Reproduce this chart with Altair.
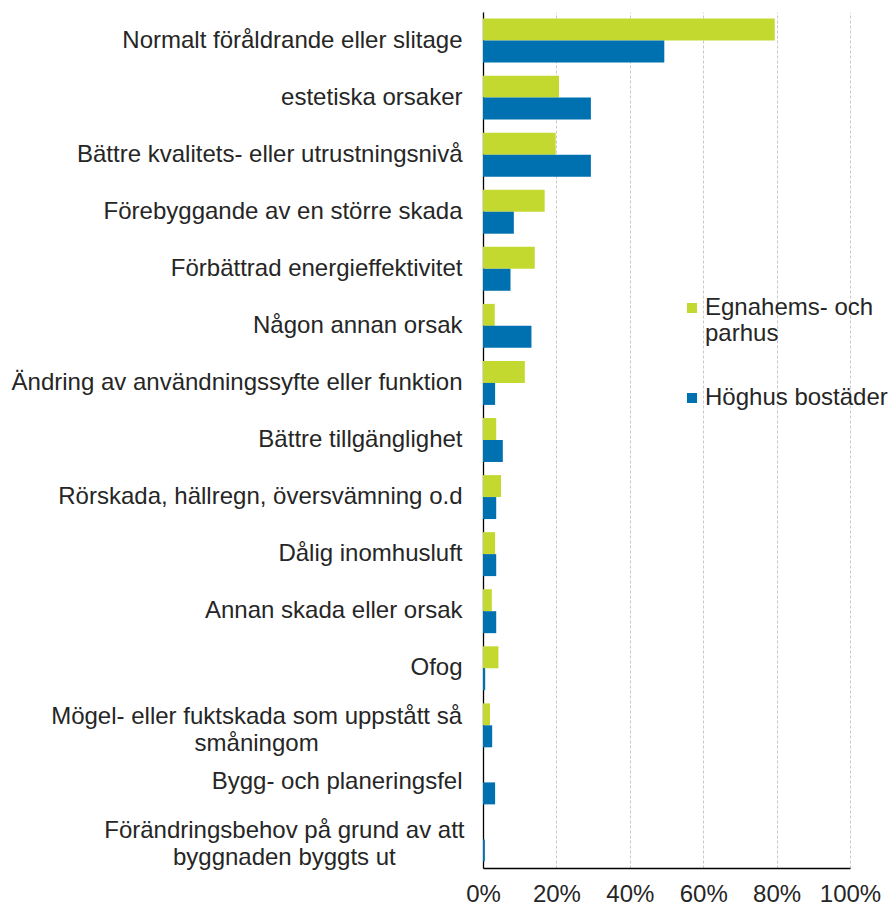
import altair as alt
import pandas as pd

categories = [
    "Normalt föråldrande eller slitage",
    "estetiska orsaker",
    "Bättre kvalitets- eller utrustningsnivå",
    "Förebyggande av en större skada",
    "Förbättrad energieffektivitet",
    "Någon annan orsak",
    "Ändring av användningssyfte eller funktion",
    "Bättre tillgänglighet",
    "Rörskada, hällregn, översvämning o.d",
    "Dålig inomhusluft",
    "Annan skada eller orsak",
    "Ofog",
    "Mögel- eller fuktskada som uppstått så\nsmåningom",
    "Bygg- och planeringsfel",
    "Förändringsbehov på grund av att\nbyggnaden byggts ut",
]
series_names = ["Egnahems- och parhus", "Höghus bostäder"]
egnahem = [79.5, 20.7, 19.8, 16.8, 14.1, 3.2, 11.4, 3.6, 4.9, 3.3, 2.4, 4.2, 1.9, 0.0, 0.0]
hoghus = [49.4, 29.4, 29.4, 8.4, 7.5, 13.2, 3.3, 5.4, 3.6, 3.6, 3.6, 0.6, 2.5, 3.3, 0.5]
x_ticks = [0, 20, 40, 60, 80, 100]
colors = ["#c4d930", "#0071b0"]

rows = []
for c, a, b in zip(categories, egnahem, hoghus):
    rows.append({"kategori": c, "serie": series_names[0], "varde": a})
    rows.append({"kategori": c, "serie": series_names[1], "varde": b})
df = pd.DataFrame(rows)

FONT = "Liberation Sans"
FS = 24
PLOT_W = 367
LABEL_GAP = 21


def width_expr(s):
    """Approximate rendered width (px) of text expression s in the label font."""
    def count(cls):
        return f"(length({s}) - length(replace({s}, regexp('[{cls}]', 'g'), '')))"
    return (
        f"({FS} / 1000) * (556 * length({s})"
        f" - 282 * {count('ijlftr .,-')}"
        f" - 56 * {count('skvcyxz')}"
        f" + 277 * {count('mwMW')})"
    )


y_enc = alt.Y(
    "kategori:N",
    sort=categories,
    title=None,
    scale=alt.Scale(paddingInner=0.23, paddingOuter=0.115),
    axis=alt.Axis(
        labelExpr="indexof(datum.label, '\\n') >= 0 ? '' : datum.label",
        labelFontSize=FS,
        labelFont=FONT,
        labelColor="#262626",
        labelPadding=LABEL_GAP,
        labelLimit=480,
        ticks=False,
        domainColor="#000000",
        domainWidth=1.3,
        grid=False,
    ),
)

x_scale = alt.Scale(domain=[0, 100], nice=False)

bars = alt.Chart(df).mark_bar().encode(
    y=y_enc,
    yOffset=alt.YOffset("serie:N", sort=series_names),
    x=alt.X(
        "varde:Q",
        title=None,
        scale=x_scale,
        axis=alt.Axis(
            values=x_ticks,
            labelExpr="datum.value + '%'",
            labelFontSize=FS,
            labelFont=FONT,
            labelColor="#262626",
            labelPadding=14,
            labelOverlap=False,
            labelFlush=False,
            ticks=False,
            domainColor="#000000",
            domainWidth=1.3,
            grid=True,
            gridColor="#c8c8c8",
            gridDash=[3, 2],
            gridWidth=1,
        ),
    ),
    color=alt.Color(
        "serie:N",
        sort=series_names,
        scale=alt.Scale(domain=series_names, range=colors),
        legend=alt.Legend(
            title=None,
            orient="none",
            legendX=197,
            legendY=284,
            symbolType="square",
            symbolSize=100,
            symbolStrokeWidth=0,
            labelFontSize=FS,
            labelFont=FONT,
            labelColor="#262626",
            labelExpr="datum.value == 'Egnahems- och parhus' ? ['Egnahems- och', 'parhus'] : datum.label",
            labelLimit=260,
            rowPadding=40,
            labelOffset=1,
        ),
    ),
)

# multi-line category labels: lines centred on each other, block right-aligned
multi = (
    alt.Chart(df)
    .transform_filter(alt.datum.serie == series_names[0])
    .transform_filter("indexof(datum.kategori, '\\n') >= 0")
    .transform_calculate(lines="split(datum.kategori, '\\n')")
    .transform_calculate(
        w0=width_expr("datum.lines[0]"), w1=width_expr("datum.lines[1]")
    )
    .transform_calculate(
        xpos=f"-({LABEL_GAP} + max(datum.w0, datum.w1) / 2) * 100 / {PLOT_W}"
    )
    .mark_text(
        align="center",
        baseline="middle",
        font=FONT,
        fontSize=FS,
        lineHeight=27,
        dy=-8,
        color="#262626",
    )
    .encode(
        y=alt.Y("kategori:N", sort=categories),
        x=alt.X("xpos:Q", scale=x_scale),
        text=alt.Text("lines:N"),
    )
)

chart = (
    alt.layer(bars, multi)
    .properties(
        width=PLOT_W,
        height=856,
        padding={"left": 483, "top": 12, "right": 41, "bottom": 40},
        autosize=alt.AutoSizeParams(type="none"),
    )
    .configure_view(stroke=None)
)

chart.save("out.html", embed_options={"renderer": "svg", "actions": False})
